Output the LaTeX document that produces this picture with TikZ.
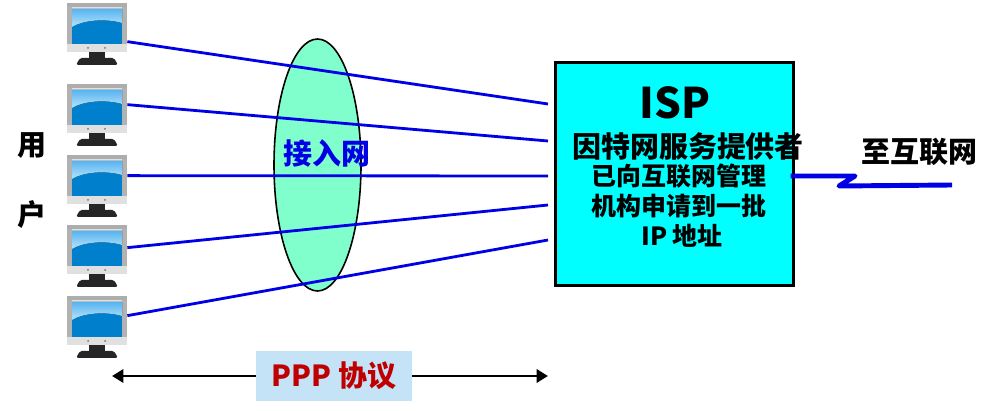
\documentclass[tikz,border=0pt]{standalone}
\usepackage{fontspec}
\setmainfont{Noto Sans CJK SC}
\usepackage{xcolor}
\usetikzlibrary{arrows.meta,positioning,calc,shapes.geometric}
\definecolor{scrblue}{HTML}{0080CC}
\definecolor{scrtop}{HTML}{B8E4FC}
\definecolor{scrhigh}{HTML}{58B4F0}
\definecolor{accessgreen}{HTML}{80FFCC}
\definecolor{ispcyan}{HTML}{00FFFF}
\definecolor{linkblue}{HTML}{0000E6}
\definecolor{pppfill}{HTML}{C5E3F7}
\definecolor{pppred}{HTML}{C00000}
\tikzset{
  pc/.style={rectangle, inner sep=0pt, minimum width=0.02cm*60, minimum height=0.02cm*62,
             path picture={
               \coordinate (nw) at (path picture bounding box.north west);
               \fill[black!85] ($(nw)+(22,47)$) rectangle ($(nw)+(38,55)$);
               \fill[black!85,rounded corners=1pt] ($(nw)+(13,55)$) -- ($(nw)+(47,55)$) -- ($(nw)+(51,62)$) -- ($(nw)+(9,62)$) -- cycle;
               \fill[black!12] ($(nw)+(0,3)$) rectangle ($(nw)+(60,49)$);
               \fill[black!32] (nw) rectangle ($(nw)+(60,4)$);
               \fill[black!30] ($(nw)+(0,4)$) rectangle ($(nw)+(5,41)$);
               \fill[black!30] ($(nw)+(55,4)$) rectangle ($(nw)+(60,41)$);
               \fill[scrblue] ($(nw)+(5,6)$) rectangle ($(nw)+(55,41)$);
               \fill[top color=scrhigh, bottom color=scrtop] ($(nw)+(5,6)$) -- ($(nw)+(55,6)$) -- ($(nw)+(55,20)$) .. controls ($(nw)+(42,16)$) and ($(nw)+(18,16)$) .. ($(nw)+(5,24)$) -- cycle;
               \fill[black!55] ($(nw)+(21,45)$) circle (1);
               \fill[black!55] ($(nw)+(38,45)$) circle (1);
             }},
  usr/.style={rectangle, font=\fontsize{16.5pt}{18pt}\selectfont\bfseries, inner sep=0pt},
  isptxt/.style={rectangle, font=\fontsize{14.2pt}{16pt}\selectfont\bfseries, inner sep=0pt},
  link/.style={linkblue, line width=1.6pt},
  wan/.style={linkblue, line width=2.8pt, line join=round},
  span/.style={-{Triangle[length=6.5pt,width=7.5pt]}, line width=1.6pt},
}
\begin{document}
\begin{tikzpicture}[x=0.02cm,y=-0.02cm]
\useasboundingbox (0,0) rectangle (996,411);
\node[pc] (pc1) at (97,34) {};
\node[pc] (pc2) at (97,115) {};
\node[pc] (pc3) at (97,186) {};
\node[pc] (pc4) at (97,256) {};
\node[pc] (pc5) at (97,327) {};
\node[usr] (yong) at (32,146) {用};
\node[usr] (hu) at (32,215) {户};
% access network
\node[ellipse, draw=black, line width=0.9pt, fill=accessgreen, minimum width=0.02cm*87, minimum height=0.02cm*252, inner sep=0pt] (acc) at (317.5,165) {};
\node[rectangle, draw=black, line width=1.7pt, fill=ispcyan, minimum width=0.02cm*238, minimum height=0.02cm*223, inner sep=0pt] (isp) at (674.5,174) {};
\coordinate (in1) at (548,104);
\coordinate (in2) at (548,141);
\coordinate (in3) at (548,176);
\coordinate (in4) at (548,205);
\coordinate (in5) at (548,240);
\draw[link] ($(pc1.north east)+(0,39)$) -- (in1);
\draw[link] ($(pc2.north east)+(0,21)$) -- (in2);
\draw[link] ($(pc3.north east)+(0,21)$) -- (in3);
\draw[link] ($(pc4.north east)+(0,23)$) -- (in4);
\draw[link] ($(pc5.north east)+(0,20)$) -- (in5);
\node[usr, text=linkblue] (acclbl) at (327,153) {接入网};
\node[font=\fontsize{24pt}{26pt}\selectfont\bfseries, inner sep=0pt] (isplbl) at (675,103) {ISP};
\node[usr] (ispa) at (688,147) {因特网服务提供者};
\node[isptxt] (ispb) at (679,176) {已向互联网管理};
\node[isptxt] (ispc) at (679,206) {机构申请到一批};
\node[isptxt] (ispd) at (682,236) {IP 地址};
\node[usr] (netlbl) at (919,152) {至互联网};
\coordinate (net) at (952,185);
\draw[wan] ([xshift=-2.5pt]isp.east) ++(0,2) -- (855,176) -- (839,186) -- (net);
\node[fill=pppfill, text=pppred, font=\fontsize{16.5pt}{18pt}\selectfont\bfseries, minimum width=0.02cm*156, minimum height=0.02cm*50, inner sep=0pt] (ppp) at (334,376) {PPP 协议};
\coordinate (pl) at (112,376);
\coordinate (pr) at (548,376);
\draw[span] (ppp) -- (pl);
\draw[span] (ppp) -- (pr);
\end{tikzpicture}
\end{document}
